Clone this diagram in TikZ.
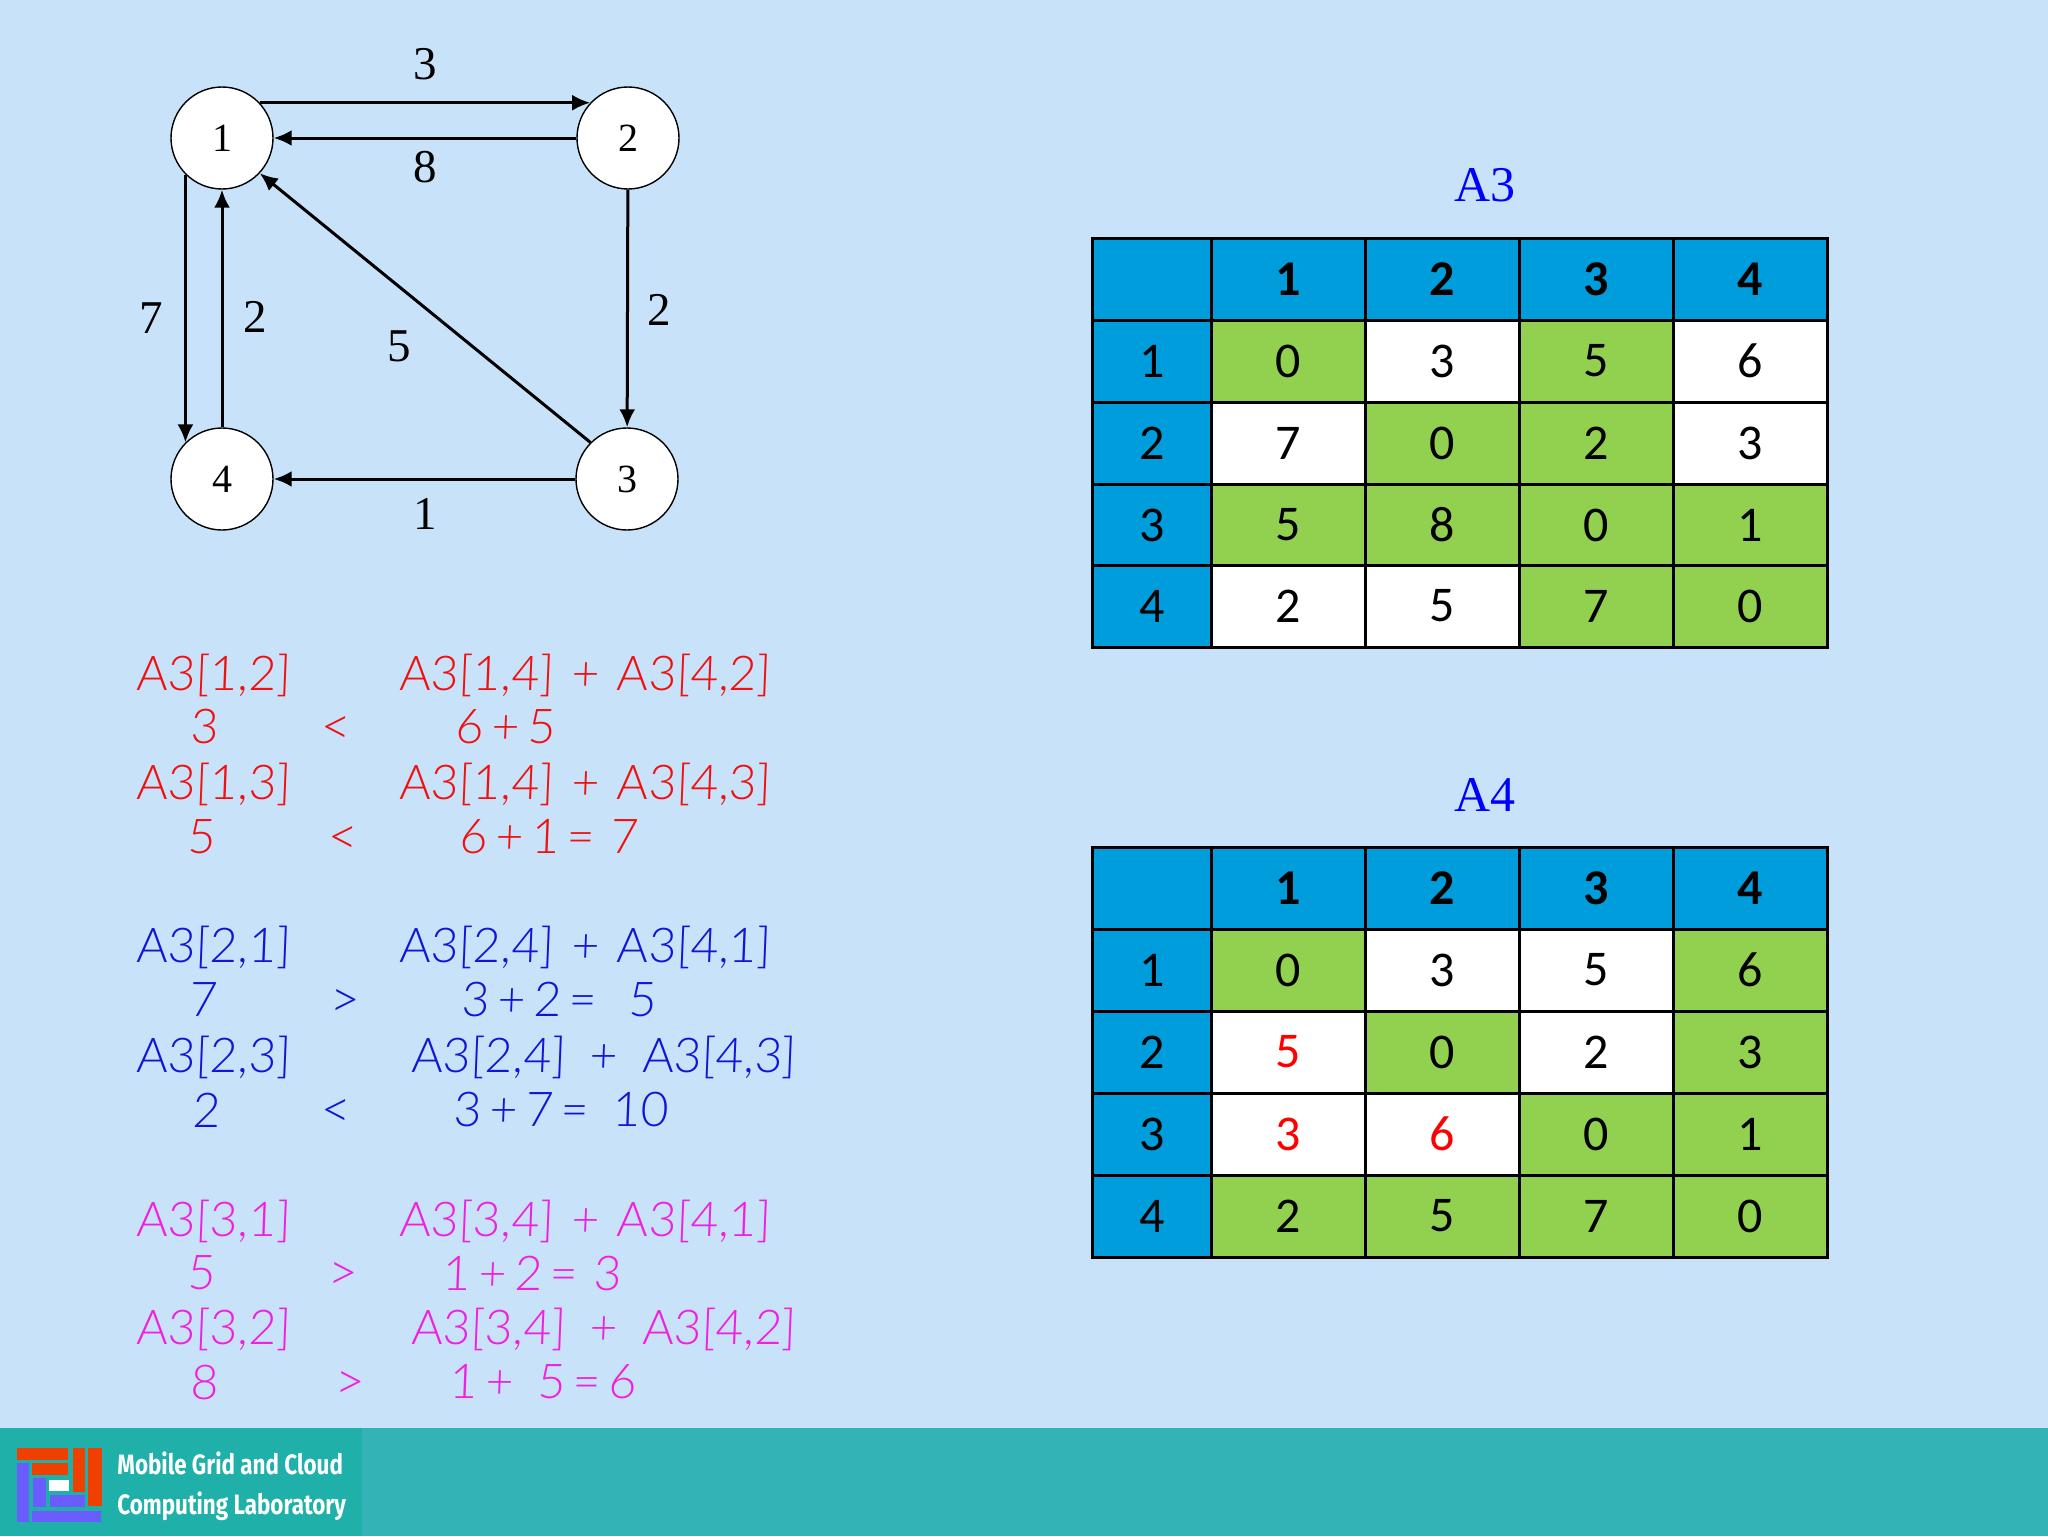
\documentclass[tikz,border=0pt]{standalone}
\usepackage{fontspec}
\usetikzlibrary{arrows.meta}
\setmainfont{Liberation Serif}
\newfontfamily\cellfont{Carlito}
\newfontfamily\handfont[FakeSlant=0.04]{Lato Light}
\newfontfamily\labfont[FakeStretch=0.8]{Fira Sans}

\definecolor{pagebg}{HTML}{C7E2F9}
\definecolor{footbg}{HTML}{33B3B5}
\definecolor{logobg}{HTML}{1FB0AA}
\definecolor{logored}{HTML}{F04000}
\definecolor{logoblue}{HTML}{6A5CFF}
\definecolor{headblue}{HTML}{009DDC}
\definecolor{cellgreen}{HTML}{92D050}
\definecolor{handred}{HTML}{F01010}
\definecolor{handblue}{HTML}{1414D8}
\definecolor{handpink}{HTML}{F020E0}

\tikzset{
  vertex/.style={circle,draw,fill=white,line width=.7pt,minimum size=51pt,inner sep=0pt,
    font=\fontsize{20}{20}\selectfont},
  arcline/.style={line width=1.5pt,-{Latex[length=9pt,width=8pt]}},
  weight/.style={font=\fontsize{23.5}{24}\selectfont},
  tabletitle/.style={text=blue,font=\fontsize{25}{25}\selectfont},
  basecell/.style={draw=black,line width=1.5pt,minimum height=41pt,inner sep=0pt,
    font=\cellfont\fontsize{25}{25}\selectfont},
  cornercell/.style={basecell,fill=headblue,minimum width=60pt},
  rowcell/.style={basecell,fill=headblue,minimum width=60pt},
  headcell/.style={basecell,fill=headblue,minimum width=77pt,font=\cellfont\bfseries\fontsize{25}{25}\selectfont},
  greencell/.style={basecell,fill=cellgreen,minimum width=77pt},
  whitecell/.style={basecell,fill=white,minimum width=77pt},
  redcell/.style={whitecell,text=red},
  hand/.style={inner sep=0pt,font=\handfont\fontsize{24}{24}\selectfont},
  handleft/.style={hand,anchor=west},
  handcmp/.style={inner sep=0pt,font=\handfont\fontsize{26}{26}\selectfont},
  footlabel/.style={text=white,inner sep=0pt,anchor=west,font=\labfont\bfseries\fontsize{14}{14}\selectfont},
}

% gaps round the plus sign of a sum
\newcommand{\plusgap}{\hspace{.37em}+\hspace{.37em}}
\newcommand{\widegap}{\hspace{.51em}+\hspace{.51em}}

% one table row: name, y, then style/value for the five cells
\newcommand{\cellrow}[3]{%
  \foreach \sty/\val [count=\i] in {#3} {
    \pgfmathsetmacro\cellx{ifthenelse(\i==1,1152,1134+(\i-1)*154)}
    \node[\sty] (#1-\i) at (\cellx,#2) {\val};
  }}

\begin{document}
\begin{tikzpicture}[x=.5pt,y=-.5pt]
  \useasboundingbox (0,0) rectangle (2048,1536);
  \fill[pagebg] (0,0) rectangle (2048,1536);

  % graph
  \node[vertex] (n1) at (222,138) {1};
  \node[vertex] (n2) at (628,138) {2};
  \node[vertex] (n3) at (627,479) {3};
  \node[vertex] (n4) at (222,479) {4};

  \draw[arcline] (n1.43) -- (n2.137);
  \draw[arcline] (n2) -- (n1);
  \draw[arcline] (n1.225) -- (n4.135);
  \draw[arcline] (n4) -- (n1);
  \draw[arcline] (n2) -- (n3);
  \draw[arcline] (n3) -- (n4);
  \draw[arcline] (n3.135) -- (n1.-43);

  \node[weight] (w12) at (425,64) {3};
  \node[weight] (w21) at (425,167) {8};
  \node[weight] (w14) at (151,318) {7};
  \node[weight] (w41) at (255,317) {2};
  \node[weight] (w31) at (399,346) {5};
  \node[weight] (w23) at (659,310) {2};
  \node[weight] (w34) at (425,514) {1};

  % tables
  \node[tabletitle] (titlea3) at (1485,185) {A3};
  \cellrow{a3r0}{279}{cornercell/{},headcell/1,headcell/2,headcell/3,headcell/4}
  \cellrow{a3r1}{361}{rowcell/1,greencell/0,whitecell/3,greencell/5,whitecell/6}
  \cellrow{a3r2}{443}{rowcell/2,whitecell/7,greencell/0,greencell/2,whitecell/3}
  \cellrow{a3r3}{525}{rowcell/3,greencell/5,greencell/8,greencell/0,greencell/1}
  \cellrow{a3r4}{606}{rowcell/4,whitecell/2,whitecell/5,greencell/7,greencell/0}

  \node[tabletitle] (titlea4) at (1485,795) {A4};
  \cellrow{a4r0}{888}{cornercell/{},headcell/1,headcell/2,headcell/3,headcell/4}
  \cellrow{a4r1}{970}{rowcell/1,greencell/0,whitecell/3,whitecell/5,greencell/6}
  \cellrow{a4r2}{1052}{rowcell/2,redcell/5,greencell/0,whitecell/2,greencell/3}
  \cellrow{a4r3}{1134}{rowcell/3,redcell/3,redcell/6,greencell/0,greencell/1}
  \cellrow{a4r4}{1216}{rowcell/4,greencell/2,greencell/5,greencell/7,greencell/0}

  % red notes
  \begin{scope}[every node/.append style={text=handred}]
    \node[handleft] (ra) at (136,675) {A3[1,2]};
    \node[handleft] (rb) at (399,675) {A3[1,4]\plusgap A3[4,2]};
    \node[hand] (rc) at (204,727) {3};
    \node[handcmp] (rd) at (336,730) {<};
    \node[handleft] (re) at (455,727) {6\,+\,5};
    \node[handleft] (rf) at (136,784) {A3[1,3]};
    \node[handleft] (rg) at (399,784) {A3[1,4]\plusgap A3[4,3]};
    \node[hand] (rh) at (201,837) {5};
    \node[handcmp] (ri) at (343,840) {<};
    \node[handleft] (rj) at (459,837) {6\,+\,1\,=\,\,7};
  \end{scope}

  % blue notes
  \begin{scope}[every node/.append style={text=handblue}]
    \node[handleft] (ba) at (136,947) {A3[2,1]};
    \node[handleft] (bb) at (399,947) {A3[2,4]\plusgap A3[4,1]};
    \node[hand] (bc) at (203,1000) {7};
    \node[handcmp] (bd) at (345,1003) {>};
    \node[handleft] (be) at (461,1000) {3\,+\,2\,=\,\,\,\,5};
    \node[handleft] (bf) at (136,1057) {A3[2,3]};
    \node[handleft] (bg) at (411,1057) {A3[2,4]\widegap A3[4,3]};
    \node[hand] (bh) at (206,1110) {2};
    \node[handcmp] (bi) at (336,1113) {<};
    \node[handleft] (bj) at (453,1110) {3\,+\,7\,=\,\,\,10};
  \end{scope}

  % pink notes
  \begin{scope}[every node/.append style={text=handpink}]
    \node[handleft] (pa) at (136,1221) {A3[3,1]};
    \node[handleft] (pb) at (399,1221) {A3[3,4]\plusgap A3[4,1]};
    \node[hand] (pc) at (201,1273) {5};
    \node[handcmp] (pd) at (343,1276) {>};
    \node[handleft] (pe) at (442,1273) {1\,+\,2\,=\,\,3};
    \node[handleft] (pf) at (136,1329) {A3[3,2]};
    \node[handleft] (pg) at (411,1329) {A3[3,4]\widegap A3[4,2]};
    \node[hand] (ph) at (204,1382) {8};
    \node[handcmp] (pi) at (350,1385) {>};
    \node[handleft] (pj) at (449,1382) {1\,+\,\,\,5\,=\,6};
  \end{scope}

  % footer and logo
  \fill[footbg] (0,1428) rectangle (2048,1536);
  \fill[logobg] (0,1428) rectangle (362,1536);
  \fill[logored] (17,1448) rectangle (68,1460);
  \fill[logored] (32,1463) rectangle (68,1475);
  \fill[logored] (73,1448) rectangle (85,1492);
  \fill[logored] (88,1448) rectangle (102,1506);
  \fill[logoblue] (17,1463) rectangle (29,1522);
  \fill[logoblue] (33,1478) rectangle (46,1507);
  \fill[white] (49,1480) rectangle (69,1491);
  \fill[logoblue] (50,1495) rectangle (85,1507);
  \fill[logoblue] (32,1511) rectangle (101,1522);
  \node[footlabel] (labone) at (117,1463) {Mobile Grid and Cloud};
  \node[footlabel] (labtwo) at (117,1506) {Computing Laboratory};
\end{tikzpicture}
\end{document}
